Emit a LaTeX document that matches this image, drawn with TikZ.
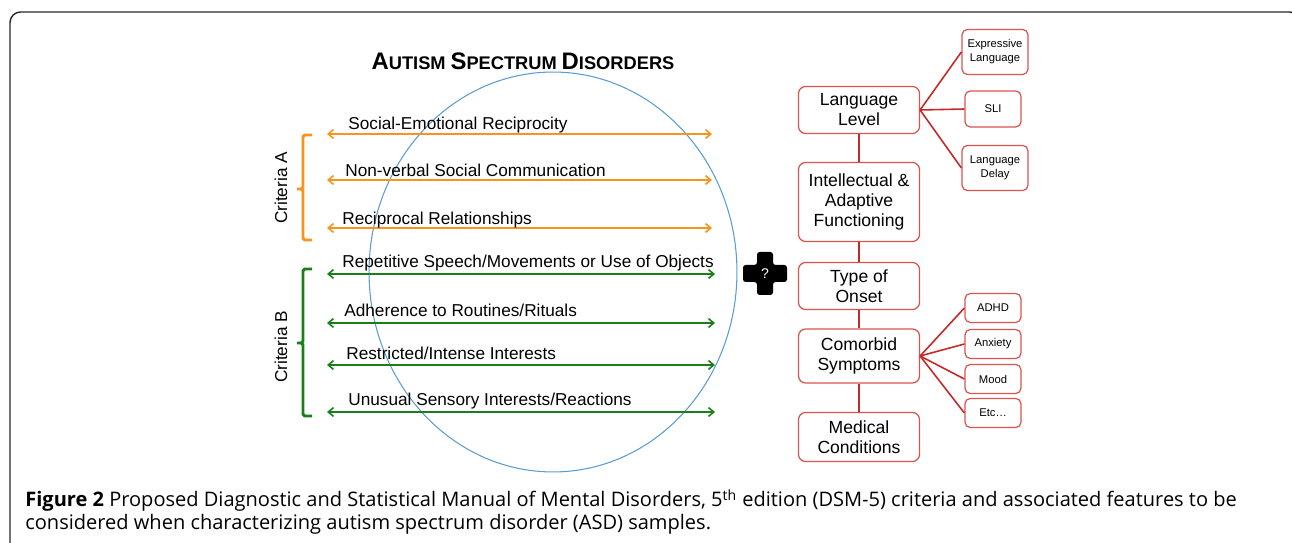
\documentclass[tikz,border=0pt]{standalone}
\usepackage{fontspec}
\setmainfont{Liberation Sans}
\newfontfamily\capfont{Open Sans}
\usetikzlibrary{arrows.meta,shapes.geometric}
\definecolor{critorange}{HTML}{F7941D}
\definecolor{critgreen}{HTML}{1A7F1A}
\definecolor{ringblue}{HTML}{5B9BD5}
\definecolor{boxred}{HTML}{D9534F}
\definecolor{linkred}{HTML}{C62828}
\newcommand{\fakesc}[2]{{\fontsize{13.6}{16}\selectfont #1}{\fontsize{10.4}{16}\selectfont #2}}

\begin{document}
\begin{tikzpicture}[x=0.02cm,y=-0.02cm,
	every node/.style={inner sep=0pt},
	lbl/.style={font=\fontsize{9.8}{11.4}\selectfont,anchor=base west},
	crit/.style={line width=0.9pt,{Straight Barb[length=3pt,width=5pt]}-{Straight Barb[length=3pt,width=5pt]}},
	brace/.style={line width=1.7pt,rounded corners=1pt},
	mainbox/.style={draw=boxred,line width=0.7pt,rounded corners=4pt,minimum width=2.42cm,minimum height=0.94cm,align=center,font=\fontsize{10}{11.4}\selectfont},
	sidebox/.style={draw=boxred,line width=0.7pt,rounded corners=3pt,minimum width=1.12cm,minimum height=0.58cm,align=center,font=\fontsize{6.4}{8}\selectfont},
	link/.style={draw=linkred,line width=0.9pt}]
	\useasboundingbox (0,0) rectangle (1292,543);
	\clip (0,0) rectangle (1292,543);
	% frame
	\draw[line width=0.8pt,draw=black!85,rounded corners=6pt] (10,570) -- (10,12) -- (1300,12) -- (1300,570);

	\node (title) at (523,61) {\bfseries\fakesc{A}{UTISM} \fakesc{S}{PECTRUM} \fakesc{D}{ISORDERS}};
	\node[draw=ringblue,line width=0.6pt,ellipse,minimum width=7.36cm,minimum height=8cm] (asd) at (553,272) {};

	% criteria A
	\foreach \y/\b/\x/\t [count=\i] in {134/130/348/{Social-Emotional Reciprocity},180/177/345/{Non-verbal Social Communication},228/225/342/{Reciprocal Relationships}}{
		\coordinate (al\i) at (327,\y);
		\coordinate (ar\i) at (712,\y);
		\draw[crit,critorange] (al\i) -- (ar\i);
		\node[lbl] (at\i) at (\x,\b) {\t};
	}
	% criteria B
	\foreach \y/\b/\x/\t [count=\i] in {274/268/342/{Repetitive Speech/Movements or Use of Objects},323/317/344/{Adherence to Routines/Rituals},365/360/346/{Restricted/Intense Interests},412/406/348/{Unusual Sensory Interests/Reactions}}{
		\coordinate (bl\i) at (327,\y);
		\coordinate (br\i) at (715,\y);
		\draw[crit,critgreen] (bl\i) -- (br\i);
		\node[lbl] (bt\i) at (\x,\b) {\t};
	}
	\draw[brace,critorange] (312,135) -- (303,135) -- (303,189) -- (295,189) -- (303,189) -- (303,240) -- (312,240);
	\draw[brace,critgreen] (312,269) -- (303,269) -- (303,343) -- (295,343) -- (303,343) -- (303,416) -- (312,416);
	\node[rotate=90,font=\fontsize{9.8}{11.4}\selectfont] (crita) at (281,188) {Criteria A};
	\node[rotate=90,font=\fontsize{9.8}{11.4}\selectfont] (critb) at (281,347) {Criteria B};

	% plus
	\fill[rounded corners=1.5pt] (757,252) -- (773,252) -- (773,265) -- (787,265) -- (787,282) -- (773,282) -- (773,295) -- (757,295) -- (757,282) -- (743,282) -- (743,265) -- (757,265) -- cycle;
	\node[text=white,font=\fontsize{8}{8}\selectfont] (qmark) at (765,274) {?};

	% features
	\node[mainbox] (lang) at (859,110) {Language\\Level};
	\node[mainbox,minimum height=1.58cm] (intel) at (859,202) {Intellectual \&\\Adaptive\\Functioning};
	\node[mainbox] (onset) at (859,286) {Type of\\Onset};
	\node[mainbox,minimum height=1.08cm] (comorb) at (859,356) {Comorbid\\Symptoms};
	\node[mainbox,minimum height=0.98cm] (medic) at (859,437) {Medical\\Conditions};

	\node[sidebox,minimum width=1.32cm,minimum height=0.9cm] (expr) at (995,52) {Expressive\\Language};
	\node[sidebox,minimum height=0.72cm] (sli) at (993,109) {SLI};
	\node[sidebox,minimum width=1.32cm,minimum height=0.9cm] (delay) at (995,168) {Language\\Delay};
	\node[sidebox] (adhd) at (993,308) {ADHD};
	\node[sidebox] (anx) at (993,344) {Anxiety};
	\node[sidebox] (mood) at (993,379) {Mood};
	\node[sidebox] (etcb) at (993,413) {Etc\ldots};

	\draw[link] (lang) -- (intel) -- (onset) -- (comorb) -- (medic);
	\foreach \s in {expr,sli,delay}
		\draw[link] (lang.east) -- (\s.west);
	\foreach \s in {adhd,anx,mood,etcb}
		\draw[link] (comorb.east) -- (\s.west);

	% caption
	\node[anchor=base west,font=\capfont\fontsize{11.4}{13.1}\selectfont] (capa) at (25,507) {\textbf{Figure 2} Proposed Diagnostic and Statistical Manual of Mental Disorders, 5\textsuperscript{th} edition (DSM-5) criteria and associated features to be};
	\node[anchor=base west,font=\capfont\fontsize{11.4}{13.1}\selectfont] (capb) at (25,530) {considered when characterizing autism spectrum disorder (ASD) samples.};
\end{tikzpicture}
\end{document}
